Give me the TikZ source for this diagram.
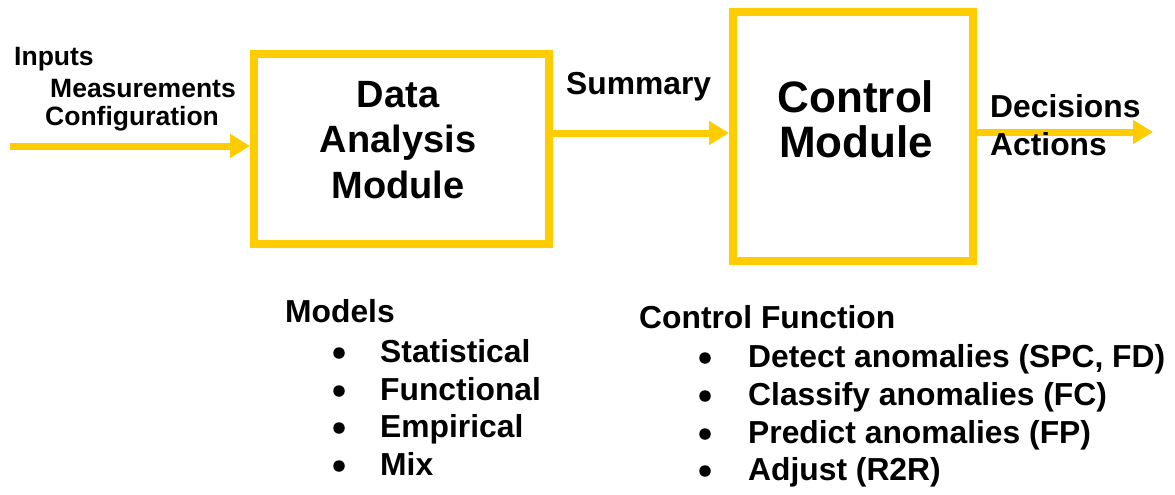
\documentclass[tikz,border=0pt]{standalone}
\usepackage{fontspec}
\setmainfont{Liberation Sans}
\usetikzlibrary{arrows.meta}
\definecolor{ygold}{HTML}{FFCC00}
\tikzset{
  modbox/.style={draw=ygold, line width=8pt, fill=none, inner sep=0pt},
  flow/.style={draw=ygold, line width=7pt, -{Triangle[length=20pt,width=23pt]}, shorten >=0pt},
  lbl/.style={anchor=base west, inner sep=0pt, font=\bfseries\fontsize{31.8}{36}\selectfont},
  small/.style={anchor=base west, inner sep=0pt, font=\bfseries\fontsize{26.5}{30}\selectfont},
  mid/.style={anchor=base, inner sep=0pt, font=\bfseries\fontsize{38}{44}\selectfont},
  big/.style={anchor=base, inner sep=0pt, font=\bfseries\fontsize{44}{50}\selectfont},
  bul/.style={circle, fill=black, inner sep=0pt, minimum size=11.5pt},
}
\begin{document}
\begin{tikzpicture}[x=1pt,y=-1pt]
\useasboundingbox (0,0) rectangle (1175,495);
% boxes
\node[modbox, minimum width=295pt, minimum height=190pt] (box1) at (401.5,149) {};
\node[modbox, minimum width=240pt, minimum height=249pt] (box2) at (853,136.5) {};
% coordinates
\coordinate (inS) at (10,146);
\coordinate (sumY) at (0,133);
\coordinate (outE) at (1153,132);
% arrows
\draw[flow] (inS) -- (inS -| box1.west);
\draw[flow] (box1.east |- sumY) -- (box2.west |- sumY);
\draw[flow] (box2.east |- outE) -- (outE);
% box texts
\node[mid] (d1) at (398,107) {Data};
\node[mid] (d2) at (398,152) {Analysis};
\node[mid] (d3) at (398,198) {Module};
\node[big] (c1) at (856,112) {Control};
\node[big] (c2) at (856,157) {Module};
% side labels
\node[small] (in1) at (14,66) {Inputs};
\node[small] (in2) at (50,97) {Measurements};
\node[small] (in3) at (45,125) {Configuration};
\node[lbl] (sum) at (566,95) {Summary};
\node[lbl] (dec) at (990,117) {Decisions};
\node[lbl] (act) at (990,155) {Actions};
% Models list
\node[lbl] (mod) at (285,322) {Models};
\node[bul] (b1) at (339,353) {};
\node[lbl] (m1) at (380,362) {Statistical};
\node[bul] (b2) at (339,391) {};
\node[lbl] (m2) at (380,400) {Functional};
\node[bul] (b3) at (339,428) {};
\node[lbl] (m3) at (380,437) {Empirical};
\node[bul] (b4) at (339,466) {};
\node[lbl] (m4) at (380,475) {Mix};
% Control function list
\node[lbl] (cf) at (639,328) {Control Function};
\node[bul] (e1) at (705,358) {};
\node[lbl] (f1) at (748,367) {Detect anomalies (SPC, FD)};
\node[bul] (e2) at (705,396) {};
\node[lbl] (f2) at (748,405) {Classify anomalies (FC)};
\node[bul] (e3) at (705,434) {};
\node[lbl] (f3) at (748,443) {Predict anomalies (FP)};
\node[bul] (e4) at (705,471) {};
\node[lbl] (f4) at (748,480) {Adjust (R2R)};
\end{tikzpicture}
\end{document}
